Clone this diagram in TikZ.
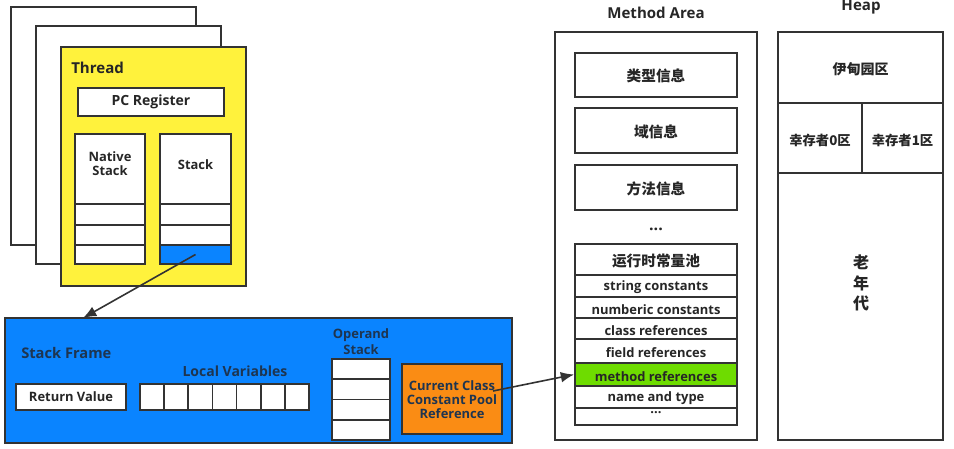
\documentclass[tikz,border=0pt]{standalone}
\usepackage{fontspec}
\setmainfont{Open Sans}
\newfontfamily\cjk{Noto Sans CJK SC}
\usetikzlibrary{arrows.meta}
\definecolor{bordc}{HTML}{333333}
\definecolor{thryel}{HTML}{FFF23C}
\definecolor{frblue}{HTML}{0A84FF}
\definecolor{cpor}{HTML}{FA8C14}
\definecolor{mgreen}{HTML}{6EDC00}
\definecolor{navy}{HTML}{1E3550}
\definecolor{txt}{HTML}{262626}
\tikzset{
  box/.style args={#1x#2}{draw=bordc, line width=1.3pt, fill=white, inner sep=0pt,
    minimum width=#1*0.75pt, minimum height=#2*0.75pt},
  lbl/.style={font=\fontsize{9.7}{11}\selectfont\bfseries, text=txt, inner sep=0pt, align=center},
  flbl/.style={lbl, text=navy},
  ttl/.style={lbl, font=\fontsize{11.3}{13}\selectfont\bfseries},
  clbl/.style={font=\fontsize{11}{13}\selectfont\cjk\bfseries, text=txt, inner sep=0pt, align=center},
  hlbl/.style={clbl, font=\fontsize{10}{12}\selectfont\cjk\bfseries},
  conn/.style={draw=bordc, line width=1.2pt, -{Latex[length=10pt,width=8pt]}}
}
\begin{document}
\begin{tikzpicture}[x=0.75pt,y=-0.75pt]
\useasboundingbox (0,0) rectangle (954,449);
% threads
\node[box=185x238] (back1) at (103.5,126) {};
\node[box=185x238] (back2) at (128.5,145) {};
\node[box=185x239, fill=thryel] (thread) at (153.5,166.5) {};
\node[ttl, anchor=west] (threadlbl) at (71,68) {Thread};
\node[box=146x28] (pc) at (151,102) {};
\node[lbl, font=\fontsize{10.5}{12}\selectfont\bfseries] (pclbl) at (151,102) {PC Register};
% native stack
\node[box=70x70] (ns0) at (110,169) {};
\node[lbl, anchor=north] (nslbl) at (110,151) {Native\\[-0.5pt]Stack};
\node[box=70x21] (ns1) at (110,214.5) {};
\node[box=70x20] (ns2) at (110,235) {};
\node[box=70x19] (ns3) at (110,254.5) {};
% stack
\node[box=71x70] (st0) at (195.5,169) {};
\node[lbl] (stlbl) at (195.5,165) {Stack};
\node[box=71x21] (st1) at (195.5,214.5) {};
\node[box=71x20] (st2) at (195.5,235) {};
\node[box=71x19, fill=frblue] (st3) at (195.5,254.5) {};
% stack frame
\node[box=507x125, fill=frblue] (frame) at (258.5,380.5) {};
\node[flbl, anchor=west, font=\fontsize{11}{13}\selectfont\bfseries] (framelbl) at (21,353) {Stack Frame};
\node[box=110x26] (ret) at (71,397) {};
\node[flbl, text=txt] (retlbl) at (71,397) {Return Value};
\node[flbl, font=\fontsize{10.5}{12}\selectfont\bfseries] (lvlbl) at (235,371) {Local Variables};
\foreach \i in {0,...,6} {
  \node[box=24.14x26] (lv\i) at ({140+12.07+24.14*\i},397) {};
}
\node[flbl] (oplbl) at (361,342) {Operand\\[1pt]Stack};
\foreach \i in {0,...,3} {
  \node[box=58x20.25] (op\i) at (361,{359+10.125+20.25*\i}) {};
}
\node[box=100x70, fill=cpor] (cp) at (452,399) {};
\node[flbl] (cplbl) at (452,400) {Current Class\\[-0.5pt]Constant Pool\\[-0.5pt]Reference};
% method area
\node[ttl] (malbl) at (656,13) {Method Area};
\node[box=202x408] (ma) at (656,236) {};
\node[box=162x44] (m1) at (656,75) {};
\node[clbl] at (656,76) {类型信息};
\node[box=162x45] (m2) at (656,130.5) {};
\node[clbl] at (656,131.5) {域信息};
\node[box=162x45] (m3) at (656,187.5) {};
\node[clbl] at (656,188.5) {方法信息};
\node[lbl, font=\fontsize{12}{12}\selectfont\bfseries] (mdots) at (656,229) {...};
\node[box=162x31] (p0) at (656,259.5) {};
\node[clbl] at (656,261) {运行时常量池};
\node[box=162x22] (p1) at (656,286) {};
\node[lbl] at (656,287.5) {string constants};
\node[box=162x21] (p2) at (656,307.5) {};
\node[lbl] at (656,309.5) {numberic constants};
\node[box=162x21] (p3) at (656,328.5) {};
\node[lbl] at (656,330.5) {class references};
\node[box=162x24] (p4) at (656,351) {};
\node[lbl] at (656,352.5) {field references};
\node[box=162x23, fill=mgreen] (mref) at (656,374.5) {};
\node[lbl] at (656,376.5) {method references};
\node[box=162x22] (p6) at (656,397) {};
\node[lbl] at (656,398.5) {name and type};
\node[box=162x17] (p7) at (656,416.5) {};
\node[lbl] at (656,413) {...};
% heap
\node[ttl] (heaplbl) at (861,7) {Heap};
\node[box=165x408] (heap) at (860.5,236) {};
\node[box=165x71] (eden) at (860.5,67.5) {};
\node[hlbl, font=\fontsize{10.5}{12}\selectfont\cjk\bfseries] at (860.5,69) {伊甸园区};
\node[box=84x70] (s0) at (820,138) {};
\node[hlbl] at (820,140) {幸存者0区};
\node[box=81x70] (s1) at (902.5,138) {};
\node[hlbl] at (902.5,140) {幸存者1区};
\node[clbl, font=\fontsize{12}{15.5}\selectfont\cjk\bfseries] (old) at (861,283) {老\\年\\代};
% connectors
\coordinate (ftop) at (83,318);
\coordinate (cpout) at (493,391);
\draw[conn] (st3.center) -- (ftop);
\draw[conn] (cpout) -- (mref.west);
\end{tikzpicture}
\end{document}
